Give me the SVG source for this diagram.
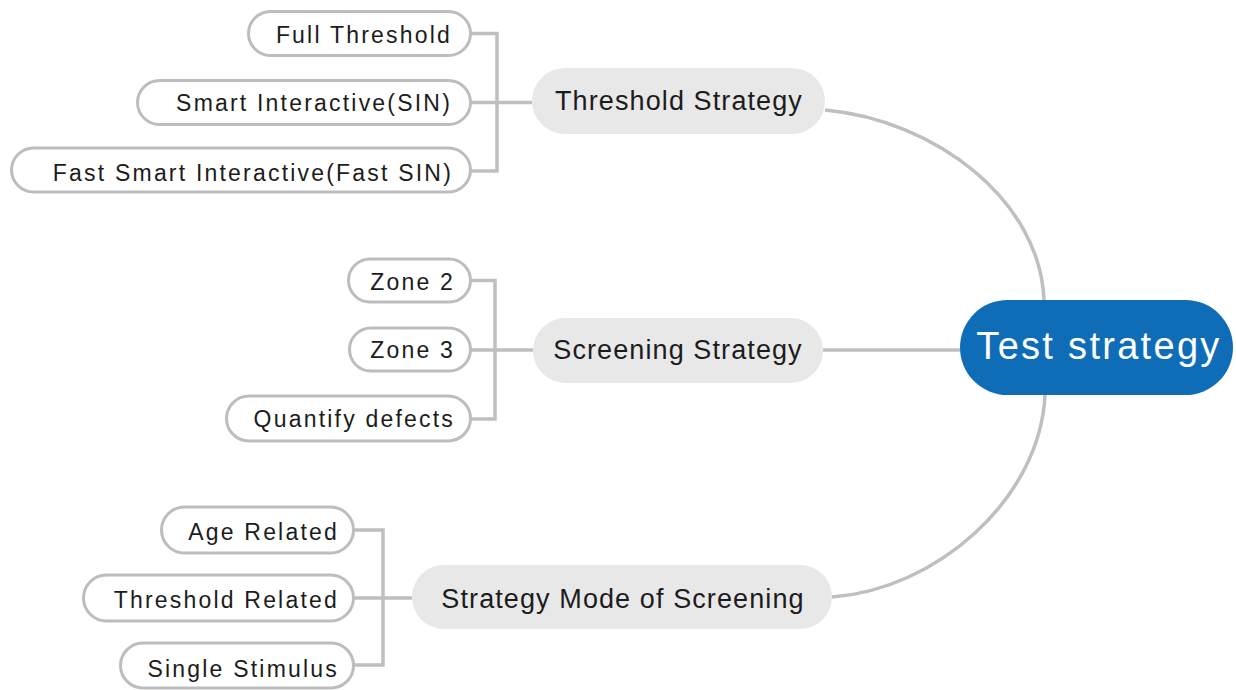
<svg xmlns="http://www.w3.org/2000/svg" width="1236" height="690" viewBox="0 0 1236 690">
<style>
.leaf rect{fill:#fff;stroke:#bdbdbd;stroke-width:3}
.leaf text{font-family:"Liberation Sans",Arial,sans-serif;font-size:23px;letter-spacing:2.2px;fill:#1c1c1c;text-anchor:end}
.mid rect{fill:#e8e8e8}
.mid text{font-family:"Liberation Sans",Arial,sans-serif;font-size:27px;letter-spacing:1.1px;fill:#1c1c1c;text-anchor:middle}
.conn path{fill:none;stroke:#bfbfbf;stroke-width:3.5}
</style>
<rect width="1236" height="690" fill="#fff"/>
<g class="conn" id="connectors">
<path d="M470.5,33.5H497V171H470.5M470.5,102.5H532"/>
<path d="M470.5,280.5H495V419H470.5M470.5,350H533"/>
<path d="M353.5,530H383V665H353.5M353.5,598H412"/>
<path d="M825,110C935,120 1040,200 1044,300"/>
<path d="M823,350H960"/>
<path d="M1045,395C1040,500 935,590 832,597"/>
</g>
<g id="root">
<rect x="960" y="300" width="273" height="95" rx="47.5" fill="#0f6db7"/>
<text x="1099" y="359" font-family="'Liberation Sans',Arial,sans-serif" font-size="38" letter-spacing="2.3" fill="#fff" text-anchor="middle">Test strategy</text>
</g>
<g id="threshold-strategy" class="mid">
<rect x="532" y="68" width="293" height="66" rx="33"/>
<text x="679" y="110">Threshold Strategy</text>
</g>
<g id="screening-strategy" class="mid">
<rect x="533" y="318" width="290" height="65" rx="32.5"/>
<text x="678" y="359">Screening Strategy</text>
</g>
<g id="strategy-mode" class="mid">
<rect x="412" y="565" width="420" height="64" rx="32"/>
<text x="623" y="608">Strategy Mode of Screening</text>
</g>
<g id="full-threshold" class="leaf">
<rect x="248.5" y="11.5" width="222" height="44" rx="22"/>
<text x="452" y="43">Full Threshold</text>
</g>
<g id="sin" class="leaf">
<rect x="137.5" y="80.5" width="333" height="44" rx="22"/>
<text x="452" y="111">Smart Interactive(SIN)</text>
</g>
<g id="fast-sin" class="leaf">
<rect x="11.5" y="148" width="459" height="44" rx="22"/>
<text x="453" y="181">Fast Smart Interactive(Fast SIN)</text>
</g>
<g id="zone2" class="leaf">
<rect x="348.5" y="259" width="122" height="43" rx="21.5"/>
<text x="455" y="290">Zone 2</text>
</g>
<g id="zone3" class="leaf">
<rect x="349.5" y="328" width="121" height="43" rx="21.5"/>
<text x="455" y="358">Zone 3</text>
</g>
<g id="quantify" class="leaf">
<rect x="226.5" y="396" width="244" height="45" rx="22.5"/>
<text x="455" y="427">Quantify defects</text>
</g>
<g id="age" class="leaf">
<rect x="161.5" y="507" width="192" height="46" rx="23"/>
<text x="339" y="540">Age Related</text>
</g>
<g id="threshold-related" class="leaf">
<rect x="83.5" y="575" width="270" height="46" rx="23"/>
<text x="339" y="608">Threshold Related</text>
</g>
<g id="single" class="leaf">
<rect x="120.5" y="643" width="233" height="45" rx="22.5"/>
<text x="339" y="677">Single Stimulus</text>
</g>
</svg>
